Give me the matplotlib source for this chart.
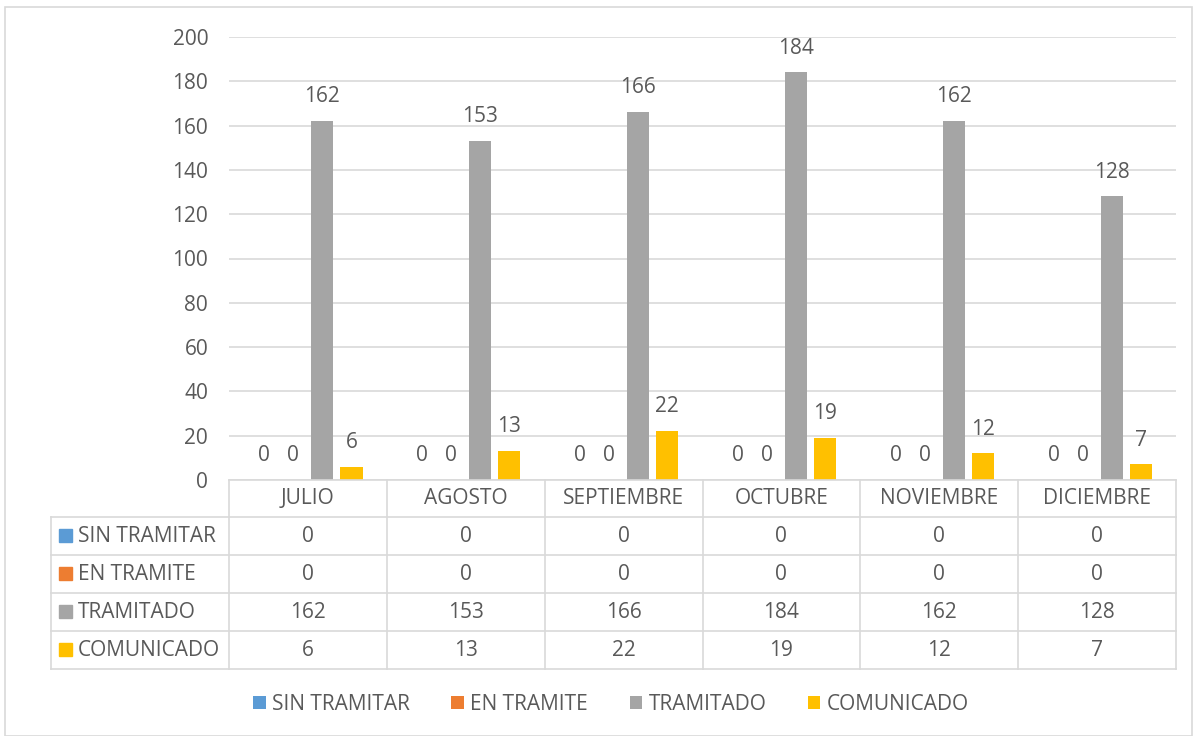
import matplotlib.pyplot as plt
import matplotlib.transforms as mtransforms
from matplotlib.patches import Rectangle
import numpy as np

plt.rcParams['font.family'] = ['Open Sans', 'DejaVu Sans']

############ Data ############
months = ["JULIO", "AGOSTO", "SEPTIEMBRE", "OCTUBRE", "NOVIEMBRE", "DICIEMBRE"]
series_names = ["SIN TRAMITAR", "EN TRAMITE", "TRAMITADO", "COMUNICADO"]
sinTramitar = [0, 0, 0, 0, 0, 0]
enTramite = [0, 0, 0, 0, 0, 0]
tramitado = [162, 153, 166, 184, 162, 128]
comunicado = [6, 13, 22, 19, 12, 7]
colors = ["#5B9BD5", "#ED7D31", "#A5A5A5", "#FFC000"]
yticks = [0, 20, 40, 60, 80, 100, 120, 140, 160, 180, 200]

allSeries = [sinTramitar, enTramite, tramitado, comunicado]
txtCol = "#595959"
gridCol = "#D9D9D9"
fs = 15

W, H = 1198, 736
fig = plt.figure(figsize=(W/100, H/100), dpi=100)
# outer chart border
fig.patches.append(Rectangle((5/W, 0), 1187/W, 1-7/H, transform=fig.transFigure,
                             fill=False, edgecolor=gridCol, lw=1.2))

def fy(py):
    """pixel row from top -> figure fraction"""
    return 1 - py/H

ax = fig.add_axes([229/W, fy(480), (1176-229)/W, (480-37)/H])
x = np.arange(len(months))
step = 0.184
width = 0.14
for i, vals in enumerate(allSeries):
    bars = ax.bar(x + (i-1.5)*step, vals, width, color=colors[i], label=series_names[i])
    ax.bar_label(bars, labels=[str(v) for v in vals], padding=10, fontsize=fs, color=txtCol)

ax.set_xlim(-0.5, len(months)-0.5)
ax.set_ylim(0, 200)
ax.set_yticks(yticks)
ax.set_xticks([])
ax.tick_params(axis='y', length=0, pad=15, labelsize=fs, labelcolor=txtCol)
ax.grid(axis='y', color=gridCol, lw=1.2)
ax.set_axisbelow(True)
for s in ax.spines.values():
    s.set_visible(False)

############ Data table ############
bt = mtransforms.blended_transform_factory(ax.transData, fig.transFigure)
rowEdges = [480, 517, 555, 593, 631, 669]
lw = 1.2
# header row lines
for py in rowEdges[:2]:
    fig.add_artist(plt.Line2D([-0.5, len(months)-0.5], [fy(py), fy(py)], transform=bt, color=gridCol, lw=lw))
# body rows span the label column too
for py in rowEdges[2:]:
    fig.add_artist(plt.Line2D([51/W, 1176/W], [fy(py), fy(py)], transform=fig.transFigure, color=gridCol, lw=lw))
fig.add_artist(plt.Line2D([51/W, 229/W], [fy(rowEdges[1]), fy(rowEdges[1])], transform=fig.transFigure, color=gridCol, lw=lw))
fig.add_artist(plt.Line2D([51/W, 51/W], [fy(rowEdges[1]), fy(rowEdges[-1])], transform=fig.transFigure, color=gridCol, lw=lw))
for c in range(len(months)+1):
    fig.add_artist(plt.Line2D([c-0.5, c-0.5], [fy(rowEdges[0]), fy(rowEdges[-1])], transform=bt, color=gridCol, lw=lw))

for c, m in enumerate(months):
    fig.text(c, fy((rowEdges[0]+rowEdges[1])/2), m, transform=bt, ha='center', va='center',
             fontsize=fs, color=txtCol)
for r, vals in enumerate(allSeries):
    yc = fy((rowEdges[r+1]+rowEdges[r+2])/2)
    fig.add_artist(Rectangle((59/W, yc-6/H), 13/W, 13/H, transform=fig.transFigure, color=colors[r]))
    fig.text(78/W, yc, series_names[r], ha='left', va='center', fontsize=fs, color=txtCol)
    for c, v in enumerate(vals):
        fig.text(c, yc, str(v), transform=bt, ha='center', va='center', fontsize=fs, color=txtCol)

############ Legend ############
leg = fig.legend(loc='center', bbox_to_anchor=(0.51, fy(704)), ncol=4, frameon=False,
                 fontsize=fs, handlelength=0.6, handleheight=0.6, handletextpad=0.3,
                 columnspacing=2.0)
for t in leg.get_texts():
    t.set_color(txtCol)

fig.savefig("out.png", dpi=100)
